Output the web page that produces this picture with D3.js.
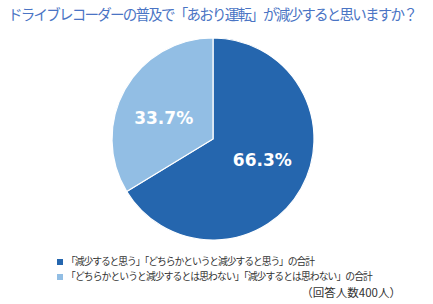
<!DOCTYPE html>
<html>
<head>
<meta charset="utf-8">
<script src="https://cdn.jsdelivr.net/npm/d3@7"></script>
<style>
  body { margin: 0; background: #fff; }
  text { font-family: "Noto Sans CJK JP", sans-serif; }
</style>
</head>
<body>
<script>
const categories = [
    '「減少すると思う」「どちらかというと減少すると思う」の合計',
    '「どちらかというと減少するとは思わない」「減少するとは思わない」の合計'
]
const values = [66.3, 33.7]
const colors = ['#2566ae', '#92bee4']
const title = 'ドライブレコーダーの普及で「あおり運転」が減少すると思いますか？'
const note = '（回答人数400人）'

const W = 433, H = 304
const cx = 213, cy = 139, radius = 101

// squeeze a text to a target width with letter spacing
const fitWidth = (sel, target) => {
    sel.each(function () {
        const node = this
        const n = node.textContent.length
        const w = node.getComputedTextLength()
        d3.select(node).style('letter-spacing', ((target - w) / n) + 'px')
    })
}

const svg = d3.select('body').append('svg')
    .attr('width', W)
    .attr('height', H)

svg.append('text')
    .attr('x', 8)
    .attr('y', 20)
    .attr('font-size', 14.5)
    .attr('fill', '#4a74c4')
    .text(title)
    .call(fitWidth, 408)

const data = categories.map((c, i) => ({ name: c, value: values[i], color: colors[i] }))

const pie = d3.pie()
    .sort(null)
    .value(d => d.value)

const arc = d3.arc()
    .innerRadius(0)
    .outerRadius(radius)

const labelArc = d3.arc()
    .innerRadius(radius * 0.56)
    .outerRadius(radius * 0.56)

const g = svg.append('g')
    .attr('transform', `translate(${cx},${cy})`)

const slices = pie(data)

g.selectAll('path')
    .data(slices)
    .enter().append('path')
    .attr('d', arc)
    .attr('fill', d => d.data.color)
    .attr('stroke', '#fff')
    .attr('stroke-width', 1.2)

// labels sit a bit flatter than the centroid in the original
g.selectAll('.lbl')
    .data(slices)
    .enter().append('text')
    .attr('class', 'lbl')
    .attr('transform', d => {
        const [x, y] = labelArc.centroid(d)
        return `translate(${x},${y * 0.75})`
    })
    .attr('text-anchor', 'middle')
    .attr('dy', '0.35em')
    .style('font-family', 'Verdana, "DejaVu Sans", sans-serif')
    .attr('font-weight', 'bold')
    .attr('font-size', 17)
    .attr('fill', '#fff')
    .text(d => d.data.value.toFixed(1) + '%')

// legend
const legend = svg.append('g')
    .attr('transform', 'translate(57,262)')

const widths = [248, 306]

const rows = legend.selectAll('g')
    .data(data)
    .enter().append('g')
    .attr('transform', (d, i) => `translate(0,${i * 15})`)

rows.append('rect')
    .attr('x', 0)
    .attr('y', -3)
    .attr('width', 6)
    .attr('height', 6)
    .attr('fill', d => d.color)

rows.append('text')
    .attr('x', 9)
    .attr('dy', '0.35em')
    .attr('font-size', 9.8)
    .attr('fill', '#333')
    .text(d => d.name)
    .each(function (d, i) { fitWidth(d3.select(this), widths[i]) })

svg.append('text')
    .attr('x', 401)
    .attr('y', 297)
    .attr('text-anchor', 'end')
    .attr('font-size', 11.5)
    .attr('fill', '#333')
    .text(note)
</script>
</body>
</html>
